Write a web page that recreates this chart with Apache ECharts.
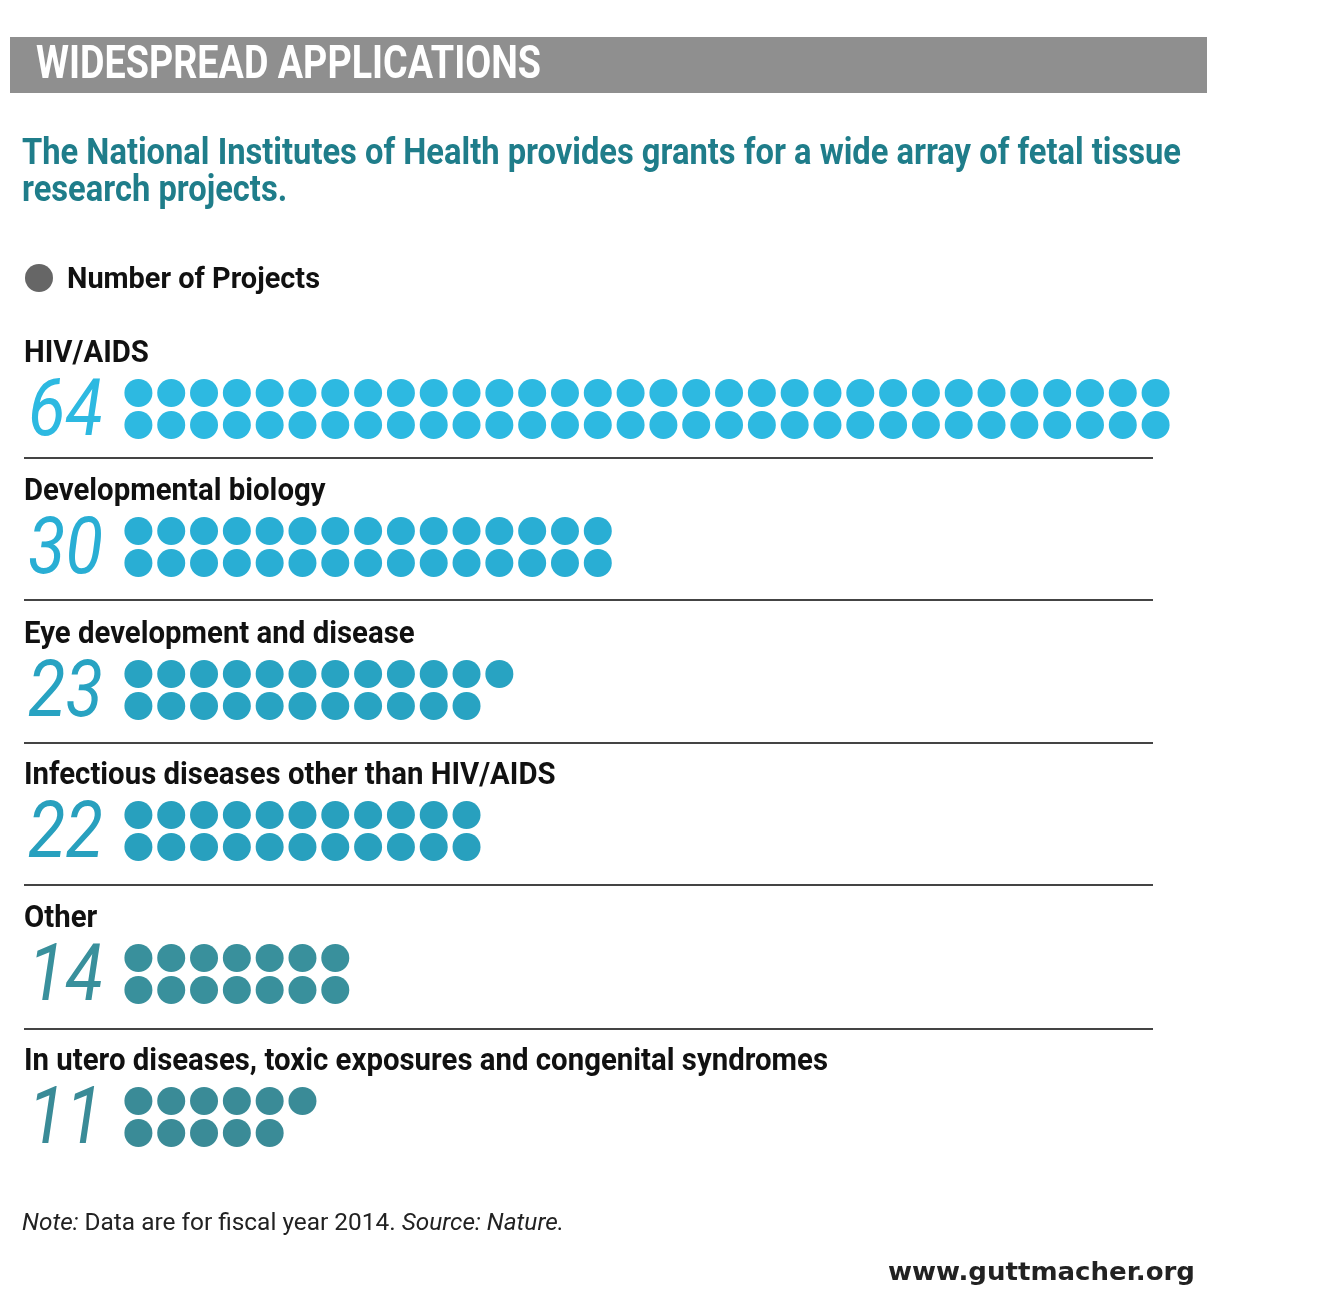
<!DOCTYPE html>
<html>
<head>
<meta charset="utf-8">
<title>Widespread applications</title>
<script src="https://cdn.jsdelivr.net/npm/echarts@6/dist/echarts.min.js"></script>
<style>
  html, body { margin: 0; padding: 0; background: #fff; }
  #chart { width: 1342px; height: 1300px; }
</style>
</head>
<body>
<div id="chart"></div>
<script>
// data
const categories = [
  'HIV/AIDS',
  'Developmental biology',
  'Eye development and disease',
  'Infectious diseases other than HIV/AIDS',
  'Other',
  'In utero diseases, toxic exposures and congenital syndromes'
]
const projectCounts = [64, 30, 23, 22, 14, 11]

// styling / layout
const dotColors = ['#2db9e1', '#29aed4', '#28a3c2', '#28a0be', '#39909c', '#3a8b97']
const gridTops = [377, 515, 658, 799, 942, 1085]
const dividerYs = [458, 600, 743, 885, 1029]
const FONT = 'Roboto, "Liberation Sans", sans-serif'

// the reference uses a condensed face; squeeze a normal one horizontally
const ctx = document.createElement('canvas').getContext('2d')
function textWidth(text, font) {
  ctx.font = font
  return ctx.measureText(text).width
}
function squeeze(text, font, target) {
  return target / textWidth(text, font)
}

const headerFont = 'bold 46px ' + FONT
const subFont = 'bold 37px ' + FONT
const legendFont = 'bold 30px ' + FONT
const catFont = 'bold 31px ' + FONT
const numFont = 'italic 80px ' + FONT
const noteFont = '24px ' + FONT
const noteItalic = 'italic 24px ' + FONT
const urlFont = 'bold 25px "DejaVu Sans", sans-serif'

const subLine1 = 'The National Institutes of Health provides grants for a wide array of fetal tissue'
const subScale = squeeze(subLine1, subFont, 1159)
const catScale = squeeze(categories[5], catFont, 804)
const numScale = squeeze('64', numFont, 75)
const noteW = textWidth('Note:', noteItalic) + textWidth(' Data are for fiscal year 2014. ', noteFont) + textWidth('Source: Nature.', noteItalic)

const chart = echarts.init(document.getElementById('chart'))

const grids = []
const xAxes = []
const yAxes = []
const series = []
const graphics = [
  { type: 'rect', shape: { x: 10, y: 37, width: 1197, height: 56 }, style: { fill: '#8f8f8f' } },
  {
    type: 'text', x: 36, y: 66, scaleX: squeeze('WIDESPREAD APPLICATIONS', headerFont, 505),
    style: { text: 'WIDESPREAD APPLICATIONS', fill: '#fff', font: headerFont, textVerticalAlign: 'middle' }
  },
  { type: 'text', x: 22, y: 155, scaleX: subScale, style: { text: subLine1, fill: '#1f7d8a', font: subFont, textVerticalAlign: 'middle' } },
  { type: 'text', x: 22, y: 192, scaleX: subScale, style: { text: 'research projects.', fill: '#1f7d8a', font: subFont, textVerticalAlign: 'middle' } },
  { type: 'circle', shape: { cx: 39, cy: 278, r: 14 }, style: { fill: '#666' } },
  {
    type: 'text', x: 67, y: 280, scaleX: squeeze('Number of Projects', legendFont, 253),
    style: { text: 'Number of Projects', fill: '#111', font: legendFont, textVerticalAlign: 'middle' }
  },
  {
    type: 'text', x: 22, y: 1224, scaleX: 542 / noteW,
    style: {
      text: '{i|Note:} Data are for fiscal year 2014. {i|Source: Nature.}',
      fill: '#222', font: noteFont, textVerticalAlign: 'middle',
      rich: { i: { fontStyle: 'italic', fontSize: 24, fontFamily: FONT, fill: '#222' } }
    }
  },
  {
    type: 'text', x: 1195, y: 1273, scaleX: squeeze('www.guttmacher.org', urlFont, 307),
    style: { text: 'www.guttmacher.org', fill: '#222', font: urlFont, textAlign: 'right', textVerticalAlign: 'middle' }
  }
]

dividerYs.forEach(y => {
  graphics.push({ type: 'line', shape: { x1: 24, y1: y, x2: 1153, y2: y }, style: { stroke: '#444', lineWidth: 2 } })
})

categories.forEach((name, i) => {
  const n = projectCounts[i]
  const topCount = Math.ceil(n / 2)
  const dots = []
  for (let k = 0; k < n; k++) {
    dots.push(k < topCount ? [k, 0] : [k - topCount, 1])
  }
  grids.push({ left: 122, top: gridTops[i], width: 1050, height: 64 })
  xAxes.push({ type: 'value', gridIndex: i, min: -0.5, max: 31.5, show: false })
  yAxes.push({ type: 'value', gridIndex: i, min: -0.5, max: 1.5, inverse: true, show: false })
  series.push({
    name,
    type: 'scatter',
    xAxisIndex: i,
    yAxisIndex: i,
    symbol: 'circle',
    symbolSize: 28,
    itemStyle: { color: dotColors[i], opacity: 1 },
    data: dots,
    silent: true
  })
  graphics.push({
    type: 'text', x: 24, y: gridTops[i] - 23, scaleX: catScale,
    style: { text: name, fill: '#111', font: catFont, textVerticalAlign: 'middle' }
  })
  graphics.push({
    type: 'text', x: 103, y: gridTops[i] + 38, scaleX: numScale,
    style: { text: String(n), fill: dotColors[i], font: numFont, textAlign: 'right', textVerticalAlign: 'middle' }
  })
})

chart.setOption({
  backgroundColor: '#fff',
  animation: false,
  grid: grids,
  xAxis: xAxes,
  yAxis: yAxes,
  series,
  graphic: graphics
})
</script>
</body>
</html>
